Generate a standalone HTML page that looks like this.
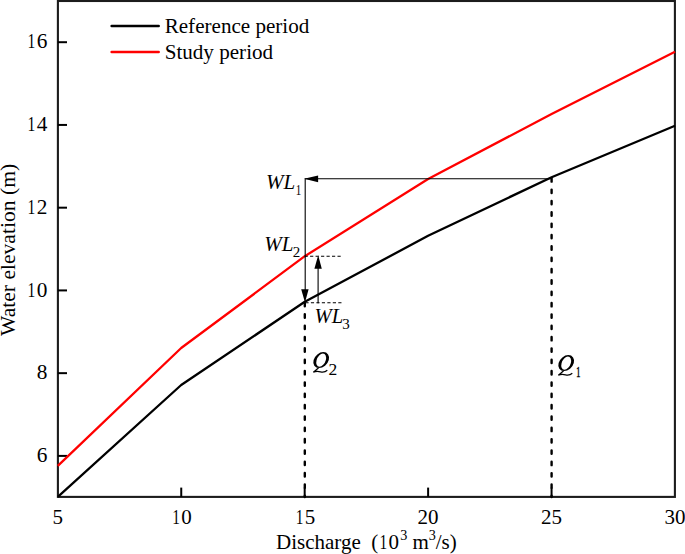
<!DOCTYPE html>
<html><head><meta charset="utf-8">
<style>
html,body{margin:0;padding:0;background:#fff;width:685px;height:554px;overflow:hidden}
svg{display:block}
text{font-family:"Liberation Serif",serif;fill:#000}
.it{font-style:italic}
</style></head><body>
<svg width="685" height="554" viewBox="0 0 685 554">
<rect x="57.9" y="1" width="617" height="495.9" fill="none" stroke="#1c1c1c" stroke-width="2.1"/>
<g stroke="#000" stroke-width="2">
<line x1="57.8" y1="455.90" x2="67" y2="455.90"/>
<line x1="57.8" y1="373.16" x2="67" y2="373.16"/>
<line x1="57.8" y1="290.42" x2="67" y2="290.42"/>
<line x1="57.8" y1="207.68" x2="67" y2="207.68"/>
<line x1="57.8" y1="124.94" x2="67" y2="124.94"/>
<line x1="57.8" y1="42.20" x2="67" y2="42.20"/>
<line x1="181.24" y1="496.9" x2="181.24" y2="487.6"/>
<line x1="304.68" y1="496.9" x2="304.68" y2="487.6"/>
<line x1="428.12" y1="496.9" x2="428.12" y2="487.6"/>
<line x1="551.56" y1="496.9" x2="551.56" y2="487.6"/>
</g>
<polyline points="57.8,496.9 181.2,385 304.8,301.8 428.1,235.8 551.6,177.2 675,125.7" fill="none" stroke="#000" stroke-width="2.3" stroke-linejoin="round"/>
<polyline points="57.8,465.8 181.2,348 304.8,256.2 428.1,179 551.6,114 675,51.7" fill="none" stroke="#f00" stroke-width="2.3" stroke-linejoin="round"/>
<text font-size="21.3" x="36.75" y="462.0">6</text>
<text font-size="21.3" x="36.75" y="379.26">8</text>
<text font-size="21.3" transform="translate(31.69,296.52) scale(0.73,1)" x="-5.59" y="0">1</text>
<text font-size="21.3" x="36.75" y="296.52">0</text>
<text font-size="21.3" transform="translate(31.69,213.78) scale(0.73,1)" x="-5.59" y="0">1</text>
<text font-size="21.3" x="36.75" y="213.78">2</text>
<text font-size="21.3" transform="translate(31.69,131.04) scale(0.73,1)" x="-5.59" y="0">1</text>
<text font-size="21.3" x="36.75" y="131.04">4</text>
<text font-size="21.3" transform="translate(31.69,48.3) scale(0.73,1)" x="-5.59" y="0">1</text>
<text font-size="21.3" x="36.75" y="48.3">6</text>
<text font-size="21" x="52.55" y="524">5</text>
<text font-size="21" transform="translate(176.25,524) scale(0.73,1)" x="-5.51" y="0">1</text>
<text font-size="21" x="181.24" y="524">0</text>
<text font-size="21" transform="translate(299.69,524) scale(0.73,1)" x="-5.51" y="0">1</text>
<text font-size="21" x="304.68" y="524">5</text>
<text font-size="21" x="417.62" y="524">2</text>
<text font-size="21" x="428.12" y="524">0</text>
<text font-size="21" x="541.06" y="524">2</text>
<text font-size="21" x="551.56" y="524">5</text>
<text font-size="21" x="664.50" y="524">3</text>
<text font-size="21" x="675.00" y="524">0</text>
<text font-size="21" y="549.3" xml:space="preserve"><tspan x="276">Discharge  (</tspan></text>
<text font-size="21" transform="translate(383.51,549.3) scale(0.73,1)" x="-5.51" y="0">1</text>
<text font-size="21" x="388.50" y="549.3">0</text>
<text font-size="21" y="549.3" xml:space="preserve"><tspan x="400.2" y="540.3" font-size="14.2">3</tspan><tspan x="412.6" y="549.3">m</tspan><tspan x="428.8" y="540.3" font-size="14.2">3</tspan><tspan x="435.7" y="549.3">/s)</tspan></text>
<text font-size="21.6" transform="translate(15.4,336) rotate(-90)" x="0" y="0">Water elevation (m)</text>
<line x1="111.6" y1="25.9" x2="158.7" y2="25.9" stroke="#000" stroke-width="2.5" stroke-linecap="round"/>
<line x1="111.6" y1="51.9" x2="158.7" y2="51.9" stroke="#f00" stroke-width="2.5" stroke-linecap="round"/>
<text font-size="21.1" x="164.7" y="32.7">Reference period</text>
<text font-size="21.1" x="164.7" y="58.7">Study period</text>
<g stroke="#000" stroke-width="1.1" fill="none">
<polyline points="551.6,178.8 305.2,178.8 305.2,292"/>
<line x1="318.1" y1="303.2" x2="318.1" y2="268"/>
</g>
<g stroke="#000" stroke-width="1.1" stroke-dasharray="3.2 2.28">
<line x1="304.6" y1="256.3" x2="341" y2="256.3"/>
<line x1="305.4" y1="302.75" x2="342" y2="302.75"/>
</g>
<g stroke="#000" stroke-width="2.4" stroke-dasharray="3.4 7.94" stroke-linecap="round">
<line x1="551.6" y1="178.26" x2="551.6" y2="497"/>
<line x1="304.8" y1="302.96" x2="304.8" y2="497"/>
</g>
<polygon points="304.1,178.7 318.1,175.6 318.1,182.2" fill="#000"/>
<polygon points="305,302.6 301.2,289.2 308.6,289.2" fill="#000"/>
<polygon points="318.2,255.2 314.4,268.7 321.8,268.7" fill="#000"/>
<text class="it" font-size="21" x="266" y="189.4">WL</text>
<text font-size="15" transform="translate(298.54,194.8) scale(0.73,1)" x="-3.94" y="0">1</text>
<text class="it" font-size="21" x="264.3" y="251.4">WL<tspan font-style="normal" font-size="15" dx="-0.8" dy="5.7">2</tspan></text>
<text class="it" font-size="20.6" x="314.6" y="322.6">WL<tspan font-style="normal" font-size="15" dx="-1" dy="6.3">3</tspan></text>
<g transform="translate(321.2,360.1)"><path transform="skewX(-15)" fill-rule="evenodd" fill="#000" d="M-7.6 0a7.6 8 0 1 0 15.2 0a7.6 8 0 1 0 -15.2 0ZM-4.6 0.1a4.6 6.6 0 1 0 9.2 0a4.6 6.6 0 1 0 -9.2 0Z"/><path d="M-2.6 7.6Q-5.4 10.2 -7.9 12.1Q-4.7 10.7 -0.7 11.7Q3.3 12.7 6.1 10.1" fill="none" stroke="#000" stroke-width="1.2"/></g>
<text font-size="17.5" x="328.4" y="374.8">2</text>
<g transform="translate(566.2,363.1)"><path transform="skewX(-15)" fill-rule="evenodd" fill="#000" d="M-7.6 0a7.6 8 0 1 0 15.2 0a7.6 8 0 1 0 -15.2 0ZM-4.6 0.1a4.6 6.6 0 1 0 9.2 0a4.6 6.6 0 1 0 -9.2 0Z"/><path d="M-2.6 7.6Q-5.4 10.2 -7.9 12.1Q-4.7 10.7 -0.7 11.7Q3.3 12.7 6.1 10.1" fill="none" stroke="#000" stroke-width="1.2"/></g>
<text font-size="15" text-anchor="middle" stroke="#000" stroke-width="0.5" transform="translate(578.2,376.8) scale(0.55,1)">1</text>
</svg>
</body></html>
